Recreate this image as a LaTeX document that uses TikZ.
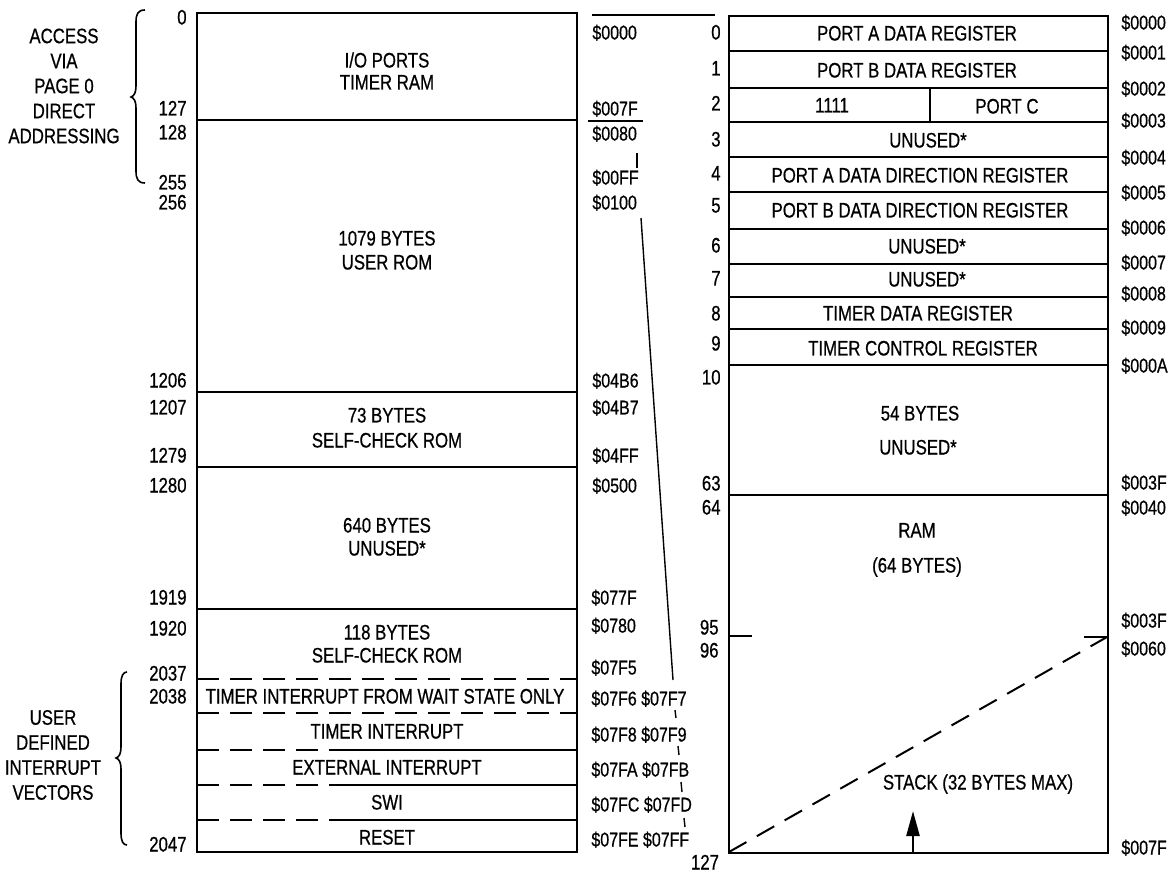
\documentclass[tikz,border=0pt]{standalone}
\usepackage{fontspec}
\setmainfont{Liberation Sans}[FakeStretch=0.8,FakeBold=0.6]
\usetikzlibrary{arrows.meta}
\begin{document}
\begin{tikzpicture}[x=0.5pt,y=-0.5pt,
  lbl/.style={font=\fontsize{10.5}{12}\selectfont, inner sep=0pt, text height=7.5pt, text depth=0pt},
  dec/.style={lbl, anchor=east},
  hex/.style={lbl, font=\fontsize{10}{12}\selectfont, anchor=west},
  multi/.style={font=\fontsize{10.5}{12.5}\selectfont, inner sep=0pt, align=center},
  box/.style={line width=1.3pt},
  sep/.style={line width=1pt},
  dsep/.style={line width=1pt, dash pattern=on 11pt off 5.5pt},
  thin/.style={line width=0.7pt},
  brace/.style={line width=0.8pt}]
\useasboundingbox (0,0) rectangle (1168,877);

% ---------- left block ----------
\draw[box] (197,13) rectangle (577,852);
\foreach \yy in {120,392,467,609} \draw[sep] (197,\yy) -- (577,\yy);
\foreach \yy in {679,713} \draw[dsep] (197,\yy) -- (577,\yy);
\foreach \yy in {750,785,820} {\draw[dsep] (197,\yy) -- (337,\yy); \draw[sep] (337,\yy) -- (577,\yy);}

\node[lbl] (io1) at (387,60) {I/O PORTS};
\node[lbl] (io2) at (387,82) {TIMER RAM};
\node[lbl] (ur1) at (387,238) {1079 BYTES};
\node[lbl] (ur2) at (387,262) {USER ROM};
\node[lbl] (sc1) at (387,415) {73 BYTES};
\node[lbl] (sc2) at (387,440) {SELF-CHECK ROM};
\node[lbl] (un1) at (387,525) {640 BYTES};
\node[lbl] (un2) at (387,548) {UNUSED*};
\node[lbl] (sd1) at (387,632) {118 BYTES};
\node[lbl] (sd2) at (387,655) {SELF-CHECK ROM};
\node[lbl] (v1) at (385,696) {TIMER INTERRUPT FROM WAIT STATE ONLY};
\node[lbl] (v2) at (387,731) {TIMER INTERRUPT};
\node[lbl] (v3) at (387,767) {EXTERNAL INTERRUPT};
\node[lbl] (v4) at (387,802) {SWI};
\node[lbl] (v5) at (387,837) {RESET};

\node[dec] (d0) at (187,17) {0};
\node[dec] (d127) at (187,108) {127};
\node[dec] (d128) at (187,132) {128};
\node[dec] (d255) at (187,182) {255};
\node[dec] (d256) at (187,202) {256};
\node[dec] (d1206) at (187,380) {1206};
\node[dec] (d1207) at (187,407) {1207};
\node[dec] (d1279) at (187,455) {1279};
\node[dec] (d1280) at (187,485) {1280};
\node[dec] (d1919) at (187,597) {1919};
\node[dec] (d1920) at (187,628) {1920};
\node[dec] (d2037) at (187,673) {2037};
\node[dec] (d2038) at (187,696) {2038};
\node[dec] (d2047) at (187,844) {2047};

\node[hex] (h0000) at (592,32) {\$0000};
\node[hex] (h007F) at (592,108) {\$007F};
\node[hex] (h0080) at (592,133) {\$0080};
\node[hex] (h00FF) at (592,177) {\$00FF};
\node[hex] (h0100) at (592,202) {\$0100};
\node[hex] (h04B6) at (592,380) {\$04B6};
\node[hex] (h04B7) at (592,407) {\$04B7};
\node[hex] (h04FF) at (592,455) {\$04FF};
\node[hex] (h0500) at (592,485) {\$0500};
\node[hex] (h077F) at (591,597) {\$077F};
\node[hex] (h0780) at (591,625) {\$0780};
\node[hex] (h07F5) at (591,667) {\$07F5};
\node[hex] (h07F6) at (591,698) {\$07F6 \$07F7};
\node[hex] (h07F8) at (591,734) {\$07F8 \$07F9};
\node[hex] (h07FA) at (591,769) {\$07FA \$07FB};
\node[hex] (h07FC) at (591,804) {\$07FC \$07FD};
\node[hex] (h07FE) at (591,839) {\$07FE \$07FF};

% mapping marks between blocks
\coordinate (mt1) at (592,15); \coordinate (mt2) at (715,15);
\draw[thin] (mt1) -- (mt2);
\coordinate (u1) at (588,121); \coordinate (u2) at (643,121);
\draw[sep] (u1) -- (u2);
\draw[thin] (637,153) -- (637,168);
\coordinate (la) at (641,218); \coordinate (lb) at (673,680);
\draw[thin] (la) -- (lb);
\draw[thin] (675,710) -- (676,718);
\draw[thin] (678,746) -- (679,755);
\draw[thin] (681,782) -- (682,792);
\draw[thin] (684,818) -- (685,827);

% braces
\draw[brace] (145,10) .. controls (138,10) and (136,14) .. (136,22) -- (136,86)
  .. controls (136,93) and (134,96) .. (131,97)
  .. controls (134,98) and (136,101) .. (136,108) -- (136,171)
  .. controls (136,179) and (138,183) .. (145,183);
\node[multi] (acc) at (64,86) {ACCESS\\VIA\\PAGE 0\\DIRECT\\ADDRESSING};
\draw[brace] (127,672) .. controls (123,672) and (121,676) .. (121,684) -- (121,747)
  .. controls (121,754) and (119,757) .. (116,758)
  .. controls (119,759) and (121,762) .. (121,769) -- (121,833)
  .. controls (121,841) and (123,845) .. (127,845);
\node[multi] (usr) at (53,755) {USER\\DEFINED\\INTERRUPT\\VECTORS};

% ---------- right block ----------
\draw[box] (729,16) rectangle (1108,853);
\foreach \yy in {51,88,122,157,192,229,264,297,329,365,495} \draw[sep] (729,\yy) -- (1108,\yy);
\draw[sep] (930,88) -- (930,122);
\draw[sep] (729,636) -- (752,636);
\draw[sep] (1084,637) -- (1108,637);
\coordinate (sbl) at (729,852); \coordinate (str) at (1107,637);
\draw[line width=1pt, dash pattern=on 10pt off 6pt] (sbl) -- (str);
\coordinate (ab) at (913,853); \coordinate (at) at (913,811);
\draw[line width=1.2pt, -{Triangle[width=6.5pt,length=12.5pt]}] (ab) -- (at);

\node[lbl] (r0) at (917,33) {PORT A DATA REGISTER};
\node[lbl] (r1) at (917,70) {PORT B DATA REGISTER};
\node[lbl] (r2a) at (832,105) {1111};
\node[lbl] (r2b) at (1007,106) {PORT C};
\node[lbl] (r3) at (928,140) {UNUSED*};
\node[lbl] (r4) at (920,175) {PORT A DATA DIRECTION REGISTER};
\node[lbl] (r5) at (920,210) {PORT B DATA DIRECTION REGISTER};
\node[lbl] (r6) at (927,246) {UNUSED*};
\node[lbl] (r7) at (927,279) {UNUSED*};
\node[lbl] (r8) at (918,313) {TIMER DATA REGISTER};
\node[lbl] (r9) at (923,348) {TIMER CONTROL REGISTER};
\node[lbl] (r10a) at (920,413) {54 BYTES};
\node[lbl] (r10b) at (918,447) {UNUSED*};
\node[lbl] (ram1) at (917,530) {RAM};
\node[lbl] (ram2) at (917,565) {(64 BYTES)};
\node[lbl] (stk) at (978,782) {STACK (32 BYTES MAX)};

\node[dec] (e0) at (721,32) {0};
\node[dec] (e1) at (721,68) {1};
\node[dec] (e2) at (721,103) {2};
\node[dec] (e3) at (721,139) {3};
\node[dec] (e4) at (721,173) {4};
\node[dec] (e5) at (721,205) {5};
\node[dec] (e6) at (721,245) {6};
\node[dec] (e7) at (721,278) {7};
\node[dec] (e8) at (721,313) {8};
\node[dec] (e9) at (721,343) {9};
\node[dec] (e10) at (721,377) {10};
\node[dec] (e63) at (721,483) {63};
\node[dec] (e64) at (721,507) {64};
\node[dec] (e95) at (719,627) {95};
\node[dec] (e96) at (719,650) {96};
\node[lbl] (e127) at (705,862) {127};

\node[hex] (k0000) at (1121,22) {\$0000};
\node[hex] (k0001) at (1121,52) {\$0001};
\node[hex] (k0002) at (1121,88) {\$0002};
\node[hex] (k0003) at (1121,120) {\$0003};
\node[hex] (k0004) at (1121,157) {\$0004};
\node[hex] (k0005) at (1121,192) {\$0005};
\node[hex] (k0006) at (1121,227) {\$0006};
\node[hex] (k0007) at (1121,262) {\$0007};
\node[hex] (k0008) at (1121,293) {\$0008};
\node[hex] (k0009) at (1121,327) {\$0009};
\node[hex] (k000A) at (1121,365) {\$000A};
\node[hex] (k003F) at (1121,482) {\$003F};
\node[hex] (k0040) at (1121,507) {\$0040};
\node[hex] (k003Fb) at (1121,620) {\$003F};
\node[hex] (k0060) at (1121,648) {\$0060};
\node[hex] (k007F) at (1121,847) {\$007F};
\end{tikzpicture}
\end{document}
